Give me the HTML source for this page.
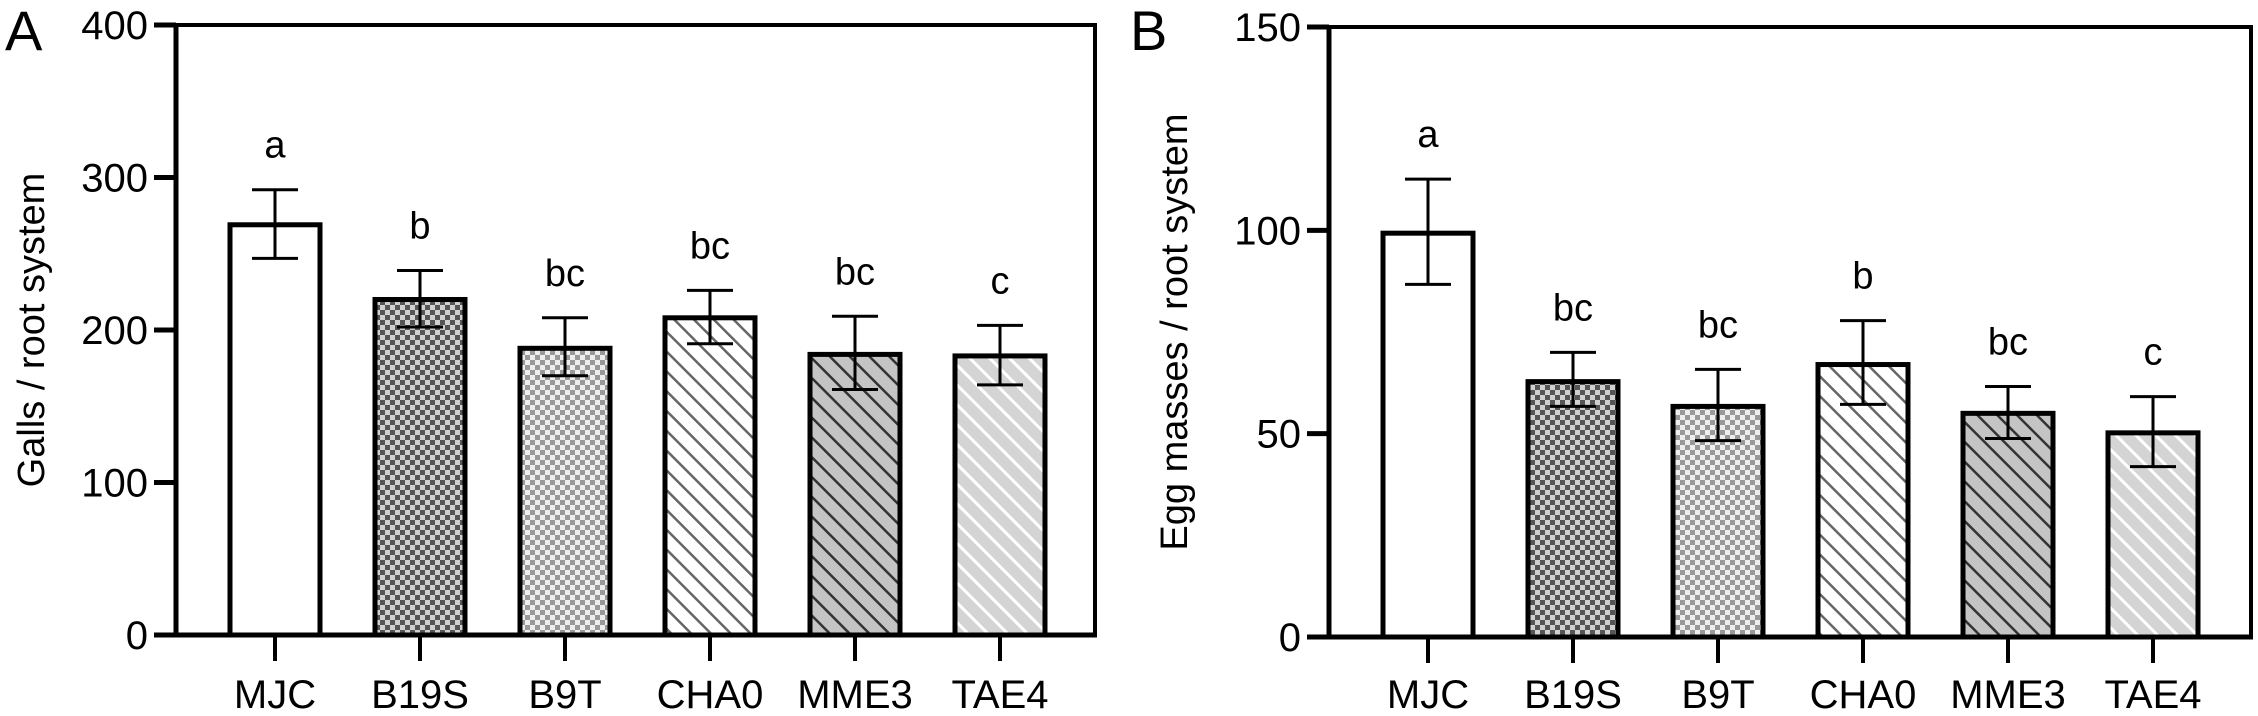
<!DOCTYPE html>
<html><head><meta charset="utf-8"><style>
html,body{margin:0;padding:0;background:#fff}
svg{display:block}
text{font-family:"Liberation Sans",Arial,sans-serif;fill:#000}
</style></head><body>
<svg id="chart" width="2258" height="716" viewBox="0 0 2258 716" xmlns="http://www.w3.org/2000/svg">
<defs>
<pattern id="pChkDark" width="10" height="10" patternUnits="userSpaceOnUse">
<rect width="10" height="10" fill="#d0d0d0"/><rect width="5" height="5" fill="#555"/><rect x="5" y="5" width="5" height="5" fill="#555"/></pattern>
<pattern id="pChkLight" width="10" height="10" patternUnits="userSpaceOnUse">
<rect width="10" height="10" fill="#eee"/><rect width="5" height="5" fill="#999"/><rect x="5" y="5" width="5" height="5" fill="#999"/></pattern>
<pattern id="pDiagW" width="14" height="14" patternUnits="userSpaceOnUse" patternTransform="rotate(45)">
<rect width="14" height="14" fill="#fff"/><rect width="14" height="2.5" fill="#666"/></pattern>
<pattern id="pDiagG" width="14" height="14" patternUnits="userSpaceOnUse" patternTransform="rotate(45)">
<rect width="14" height="14" fill="#c4c4c4"/><rect width="14" height="2.5" fill="#333"/></pattern>
<pattern id="pDiagL" width="14" height="14" patternUnits="userSpaceOnUse" patternTransform="rotate(45)">
<rect width="14" height="14" fill="#d4d4d4"/><rect width="14" height="3" fill="#fff"/></pattern>
</defs>
<g id="gA"></g>
<g id="gB"></g>
</svg>
<script>
const categories = ["MJC","B19S","B9T","CHA0","MME3","TAE4"];
const gallsMean = [269, 220, 188, 208, 184, 183];
const gallsHigh = [292, 239, 208, 226, 209, 203];
const gallsLow  = [247, 202, 170, 191, 161, 164];
const gallsLetters = ["a","b","bc","bc","bc","c"];
const gallsTicks = [0,100,200,300,400];
const eggMean = [99.3, 62.8, 56.7, 67, 55, 50.2];
const eggHigh = [112.6, 70, 65.8, 77.8, 61.6, 59.1];
const eggLow  = [86.7, 56.7, 48.3, 57.2, 48.8, 41.9];
const eggLetters = ["a","bc","bc","b","bc","c"];
const eggTicks = [0,50,100,150];
const fills = ["#fff","url(#pChkDark)","url(#pChkLight)","url(#pDiagW)","url(#pDiagG)","url(#pDiagL)"];
const NS="http://www.w3.org/2000/svg";
function mk(tag,attrs,parent){const e=document.createElementNS(NS,tag);for(const k in attrs)e.setAttribute(k,attrs[k]);parent.appendChild(e);return e;}

function panel(g,cfg){
  const {x0,x1,yTop,yBot,max,mean,hi,lo,letters,ticks,title,panelLabel,plx,tlx}=cfg;
  const yS=v=>yBot-(v/max)*(yBot-yTop);
  const step=145, first=x0+99, bw=90;
  const xS=i=>first+i*step;
  const fr=mk('path',{d:`M${x0} ${yTop} H${x1} V${yBot}`,fill:'none',stroke:'#000','stroke-width':4},g);
  
  
  mean.forEach((v,i)=>{
    const cx=xS(i);
    const r=mk('rect',{x:cx-bw/2,y:yS(v),width:bw,height:yBot-yS(v),fill:fills[i],stroke:'#000','stroke-width':5},g);
    
    
    const eb=mk('path',{d:`M${cx} ${yS(hi[i])} V${yS(lo[i])} M${cx-23} ${yS(hi[i])} H${cx+23} M${cx-23} ${yS(lo[i])} H${cx+23}`,stroke:'#000','stroke-width':3,fill:'none'},g);
    
    
    const lt=mk('text',{x:cx,y:yS(hi[i])-32,'text-anchor':'middle','font-size':38},g);
    lt.textContent=letters[i];
    
    
    const tk=mk('line',{x1:cx,x2:cx,y1:yBot,y2:yBot+26,stroke:'#000','stroke-width':4},g);
    
    
    const xl=mk('text',{x:cx,y:708,'text-anchor':'middle','font-size':40},g);
    xl.textContent=categories[i];
    
    
  });
  const ya=mk('line',{x1:x0,x2:x0,y1:yTop-2,y2:yBot+2,stroke:'#000','stroke-width':5},g);
  
  
  const xa=mk('line',{x1:x0-22,x2:x1+2,y1:yBot,y2:yBot,stroke:'#000','stroke-width':5},g);
  
  
  ticks.forEach(t=>{
    const l=mk('line',{x1:x0-22,x2:x0,y1:yS(t),y2:yS(t),stroke:'#000','stroke-width':5},g);
    
    
    const tx=mk('text',{x:x0-28,y:yS(t)+14,'text-anchor':'end','font-size':40},g);
    tx.textContent=t;
    
    
  });
  const yt=mk('text',{x:tlx,y:(yTop+yBot)/2,'text-anchor':'middle','font-size':38,transform:`rotate(-90 ${tlx} ${(yTop+yBot)/2})`},g);
  yt.textContent=title;
  
  
  const pl=mk('text',{x:plx,y:50,'font-size':56},g);
  pl.textContent=panelLabel;
  
  
}
panel(document.getElementById('gA'),{x0:176,x1:1095,yTop:25,yBot:635,max:400,mean:gallsMean,hi:gallsHigh,lo:gallsLow,letters:gallsLetters,ticks:gallsTicks,title:"Galls / root system",panelLabel:"A",plx:5,tlx:44});
panel(document.getElementById('gB'),{x0:1329,x1:2251,yTop:27,yBot:637,max:150,mean:eggMean,hi:eggHigh,lo:eggLow,letters:eggLetters,ticks:eggTicks,title:"Egg masses / root system",panelLabel:"B",plx:1130,tlx:1187});
</script>
</body></html>
